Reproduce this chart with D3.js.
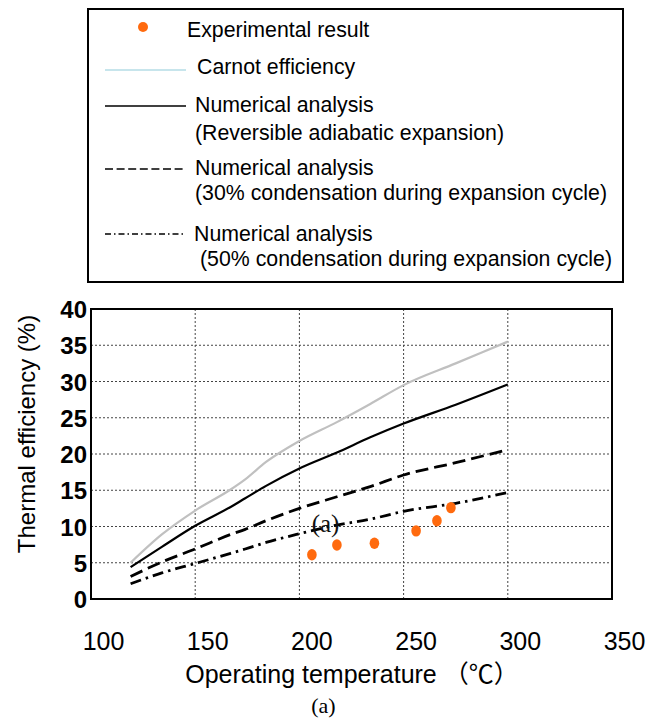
<!DOCTYPE html>
<html>
<head>
<meta charset="utf-8">
<script src="https://cdn.jsdelivr.net/npm/d3@7"></script>
<style>
  html, body { margin: 0; padding: 0; background: #fff; }
  svg { display: block; }
</style>
</head>
<body>
<script>
// ---- data ----
const lineTemps   = [119, 134, 150, 167, 174, 184, 200, 218, 234, 250, 275, 300];
const carnot      = [5.0, 8.9, 12.2, 15.1, 16.5, 18.9, 21.8, 24.4, 26.9, 29.5, 32.5, 35.5];
const reversible  = [4.4, 7.2, 10.1, 12.7, 13.9, 15.6, 18.0, 20.2, 22.3, 24.2, 26.8, 29.6];
const cond30      = [3.1, 5.1, 6.9, 8.9, 9.6, 10.8, 12.5, 14.1, 15.5, 17.1, 18.8, 20.6];
const cond50      = [2.1, 3.6, 4.9, 6.3, 6.9, 7.8, 9.0, 10.2, 11.0, 12.1, 13.2, 14.7];
const expTemps    = [206, 218, 236, 256, 266, 272.7];
const expEff      = [6.1, 7.45, 7.7, 9.4, 10.8, 12.6];
const xTicks      = [100, 150, 200, 250, 300, 350];
const yTicks      = [0, 5, 10, 15, 20, 25, 30, 35, 40];
const legendLabels = [
  ["Experimental result"],
  ["Carnot efficiency"],
  ["Numerical analysis", "(Reversible adiabatic expansion)"],
  ["Numerical analysis", "(30% condensation during expansion cycle)"],
  ["Numerical analysis", "(50% condensation during expansion cycle)"]
];

const W = 662, H = 718;
const FONT = "'Liberation Sans', Arial, 'Noto Sans CJK JP', sans-serif";
const SERIF = "'Liberation Serif', 'Times New Roman', serif";
const svg = d3.select("body").append("svg").attr("width", W).attr("height", H);
svg.append("rect").attr("width", W).attr("height", H).attr("fill", "#fff");

// ---- plot geometry ----
const pl = 91, pr = 612, pt = 309, pb = 599;
const x = d3.scaleLinear().domain([100, 350]).range([pl, pr]);
const y = d3.scaleLinear().domain([0, 40]).range([pb, pt]);

// grid
const grid = svg.append("g");
grid.selectAll("line.v").data(xTicks.filter(d => d > 100 && d < 350)).join("line")
  .attr("x1", d => x(d)).attr("x2", d => x(d)).attr("y1", pt).attr("y2", pb)
  .attr("stroke", "#444").attr("stroke-width", 1).attr("stroke-dasharray", "2,2");
grid.selectAll("line.h").data(yTicks.filter(d => d > 0 && d < 40)).join("line")
  .attr("x1", pl).attr("x2", pr).attr("y1", d => y(d)).attr("y2", d => y(d))
  .attr("stroke", "#444").attr("stroke-width", 1).attr("stroke-dasharray", "2,2");

// lines
const mk = vals => d3.line().curve(d3.curveMonotoneX)
  .x((d, i) => x(lineTemps[i])).y(d => y(d))(vals);
svg.append("path").attr("d", mk(carnot)).attr("fill", "none")
  .attr("stroke", "#c0c0c0").attr("stroke-width", 2.2);
svg.append("path").attr("d", mk(reversible)).attr("fill", "none")
  .attr("stroke", "#000").attr("stroke-width", 2.2);
svg.append("path").attr("d", mk(cond30)).attr("fill", "none")
  .attr("stroke", "#000").attr("stroke-width", 2.8).attr("stroke-dasharray", "13,6");
svg.append("path").attr("d", mk(cond50)).attr("fill", "none")
  .attr("stroke", "#000").attr("stroke-width", 2.8).attr("stroke-dasharray", "11,5,2.5,5");

// "(a)" label inside plot
svg.append("text").attr("x", 325.5).attr("y", 532).attr("text-anchor", "middle")
  .attr("font-family", SERIF).attr("font-size", 25)
  .attr("fill", "#111").text("(a)");

// experimental points
svg.selectAll("ellipse.exp").data(expTemps).join("ellipse")
  .attr("cx", (d) => x(d)).attr("cy", (d, i) => y(expEff[i]))
  .attr("rx", 4.8).attr("ry", 5.7).attr("fill", "#ff6a0e");

// frame
svg.append("rect").attr("x", pl).attr("y", pt).attr("width", pr - pl).attr("height", pb - pt)
  .attr("fill", "none").attr("stroke", "#000").attr("stroke-width", 2);

// y axis tick labels
const yAx = svg.append("g").attr("transform", `translate(${pl},0)`)
  .call(d3.axisLeft(y).tickValues(yTicks).tickSize(0).tickPadding(4));
yAx.select(".domain").remove();
yAx.selectAll("text").attr("font-family", FONT).attr("font-size", 24)
  .attr("font-weight", "bold").attr("fill", "#000").attr("dy", "0.36em");

// x axis tick labels
const xAx = svg.append("g").attr("transform", `translate(12,${pb})`)
  .call(d3.axisBottom(x).tickValues(xTicks).tickSize(0).tickPadding(51));
xAx.select(".domain").remove();
xAx.selectAll("text").attr("font-family", FONT).attr("font-size", 25)
  .attr("fill", "#000").attr("dy", "0");

// axis titles
svg.append("text").attr("transform", "translate(35,434) rotate(-90)")
  .attr("text-anchor", "middle").attr("font-family", FONT).attr("font-size", 24)
  .attr("fill", "#000").text("Thermal efficiency (%)");
svg.append("text").attr("x", 352).attr("y", 683).attr("text-anchor", "middle")
  .attr("font-family", FONT).attr("font-size", 25).attr("fill", "#000")
  .text("Operating temperature （℃）");
svg.append("text").attr("x", 323.5).attr("y", 713).attr("text-anchor", "middle")
  .attr("font-family", SERIF).attr("font-size", 22)
  .attr("fill", "#000").text("(a)");

// ---- legend ----
const lg = svg.append("g");
lg.append("rect").attr("x", 88).attr("y", 9).attr("width", 535).attr("height", 273)
  .attr("fill", "#fff").attr("stroke", "#000").attr("stroke-width", 2);

lg.append("circle").attr("cx", 143).attr("cy", 27).attr("r", 5).attr("fill", "#ff6a0e");
const lx1 = 105, lx2 = 186;
lg.append("line").attr("x1", lx1).attr("x2", lx2).attr("y1", 70).attr("y2", 70)
  .attr("stroke", "#b5dde6").attr("stroke-width", 1.6);
lg.append("line").attr("x1", lx1).attr("x2", lx2).attr("y1", 106).attr("y2", 106)
  .attr("stroke", "#000").attr("stroke-width", 1.6);
lg.append("line").attr("x1", lx1).attr("x2", lx2).attr("y1", 169).attr("y2", 169)
  .attr("stroke", "#000").attr("stroke-width", 1.6).attr("stroke-dasharray", "8,3.6");
lg.append("line").attr("x1", lx1).attr("x2", lx2).attr("y1", 234).attr("y2", 234)
  .attr("stroke", "#000").attr("stroke-width", 1.6).attr("stroke-dasharray", "6,3,1.5,3");

const legendPos = [
  [[187, 37]],
  [[197, 74]],
  [[195, 112], [195, 140]],
  [[195, 174.5], [195, 200]],
  [[194, 241], [200, 266]]
];
legendLabels.forEach((lines, i) => {
  lines.forEach((t, j) => {
    lg.append("text").attr("x", legendPos[i][j][0]).attr("y", legendPos[i][j][1])
      .attr("font-family", FONT).attr("font-size", 21.3).attr("fill", "#000").text(t);
  });
});
</script>
</body>
</html>
